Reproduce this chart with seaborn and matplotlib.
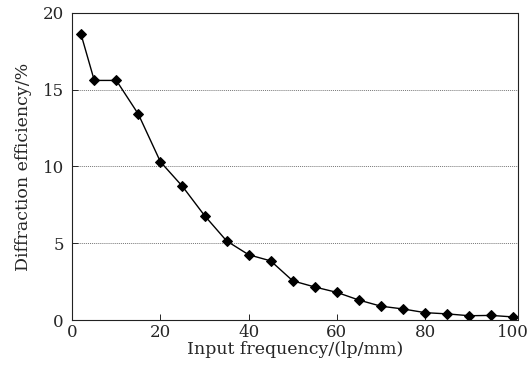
import numpy as np
import pandas as pd
import matplotlib
matplotlib.use("Agg")
import matplotlib.pyplot as plt
import seaborn as sns

# значения
freq = [2, 5, 10, 15, 20, 25, 30, 35, 40, 45, 50, 55, 60, 65, 70, 75, 80, 85, 90, 95, 100]
eff = [18.6, 15.6, 15.6, 13.4, 10.3, 8.7, 6.8, 5.15, 4.25, 3.85, 2.55, 2.15, 1.8, 1.3,
       0.9, 0.72, 0.48, 0.4, 0.28, 0.3, 0.2]
xticks = [0, 20, 40, 60, 80, 100]
yticks = [0, 5, 10, 15, 20]

df = pd.DataFrame({"freq": freq, "eff": eff})

sns.set_style("white")
plt.rcParams["font.family"] = ["DejaVu Serif"]

fig, ax = plt.subplots(figsize=(5.31, 3.67), dpi=100)
fig.subplots_adjust(left=0.136, right=0.975, top=0.965, bottom=0.128)

sns.lineplot(data=df, x="freq", y="eff", ax=ax, color="black", lw=1.0,
             marker="D", markersize=5, markeredgecolor="black", markerfacecolor="black")

ax.set_xlim(0, 101)
ax.set_ylim(0, 20)
ax.set_xticks(xticks)
ax.set_yticks(yticks)
ax.yaxis.grid(True, linestyle=(0, (1, 1)), color="#777777", lw=0.7)
ax.xaxis.grid(False)
for s in ax.spines.values():
    s.set_linestyle((0, (2, 1)))
    s.set_linewidth(0.8)
    s.set_color("#222222")
ax.tick_params(direction="in", length=4, width=0.7, labelsize=12, pad=6,
               bottom=True, left=True)
ax.tick_params(axis="x", pad=3)
ax.set_xlabel("Input frequency/(lp/mm)", fontsize=12.5, labelpad=0)
ax.set_ylabel("Diffraction efficiency/%", fontsize=12.5, labelpad=8)

fig.savefig("out.png", dpi=100)
